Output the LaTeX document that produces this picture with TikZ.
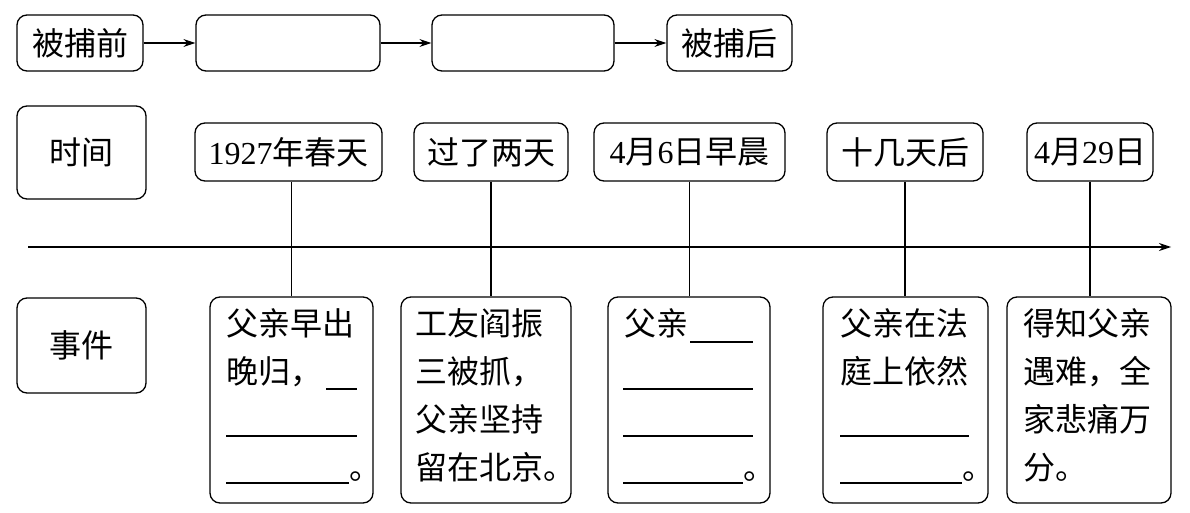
\documentclass[tikz,border=0pt]{standalone}
\usepackage{fontspec}
\setmainfont{Liberation Serif}
\newfontfamily\cjk{Noto Sans CJK SC}
\usetikzlibrary{arrows.meta}
\begin{document}
\begin{tikzpicture}[x=1pt,y=-1pt,line width=1.3pt,
  box/.style={draw,rounded corners=10pt,inner sep=0pt,font=\fontsize{32}{38}\selectfont},
  lbl/.style={anchor=base west,inner sep=0pt,font=\fontsize{32}{38}\selectfont\cjk},
  arr/.style={-{Stealth[length=12pt,width=8pt]}},
  blank/.style={line width=1.2pt}]
\useasboundingbox (0,0) rectangle (1190,513);
% top row
\node[box,minimum width=126pt,minimum height=56pt] (b1) at (80,43) {\cjk 被捕前};
\node[box,minimum width=184pt,minimum height=56pt] (b2) at (288,43) {};
\node[box,minimum width=182pt,minimum height=56pt] (b3) at (523,43) {};
\node[box,minimum width=125pt,minimum height=56pt] (b4) at (729.5,43) {\cjk 被捕后};
\draw[arr] (b1) -- (b2);
\draw[arr] (b2) -- (b3);
\draw[arr] (b3) -- (b4);
% row labels
\node[box,minimum width=129pt,minimum height=93pt] (lt) at (81.5,152.5) {\cjk 时间};
\node[box,minimum width=129pt,minimum height=95pt] (le) at (81.5,345.5) {\cjk 事件};
% time boxes
\node[box,minimum width=187pt,minimum height=58pt] (t1) at (288.5,152) {1927{\cjk 年春天}};
\node[box,minimum width=154pt,minimum height=58pt] (t2) at (491,152) {\cjk 过了两天};
\node[box,minimum width=191pt,minimum height=58pt] (t3) at (689.5,152) {4{\cjk 月}6{\cjk 日早晨}};
\node[box,minimum width=156pt,minimum height=58pt] (t4) at (905,152) {\cjk 十几天后};
\node[box,minimum width=126pt,minimum height=58pt] (t5) at (1090,152) {4{\cjk 月}29{\cjk 日}};
% timeline
\coordinate (tl0) at (28,247);
\coordinate (tl1) at (1171,247);
\draw[arr] (tl0) -- (tl1);
% event boxes
\node[box,minimum width=163pt,minimum height=206pt] (e1) at (291.5,400) {};
\node[box,minimum width=170pt,minimum height=206pt] (e2) at (486,400) {};
\node[box,minimum width=162pt,minimum height=206pt] (e3) at (689,400) {};
\node[box,minimum width=165pt,minimum height=206pt] (e4) at (905.5,400) {};
\node[box,minimum width=164pt,minimum height=206pt] (e5) at (1089,400) {};
% connectors
\draw (e1.north) -- (e1.north |- t1.south);
\draw (t2.south) -- (t2.south |- e2.north);
\draw (t3.south) -- (t3.south |- e3.north);
\draw (t4.south) -- (t4.south |- e4.north);
\draw (t5.south) -- (t5.south |- e5.north);
% event 1
\node[lbl] (e1a) at (226,335) {父亲早出};
\node[lbl] (e1b) at (226,383) {晚归，};
\draw[blank] (326,389) -- (357,389);
\draw[blank] (226,436) -- (357,436);
\draw[blank] (226,483) -- (349,483);
\node[lbl] (e1c) at (349,479) {。};
% event 2
\node[lbl] (e2a) at (415,335) {工友阎振};
\node[lbl] (e2b) at (415,383) {三被抓，};
\node[lbl] (e2c) at (415,431) {父亲坚持};
\node[lbl] (e2d) at (415,479) {留在北京。};
% event 3
\node[lbl] (e3a) at (624,335) {父亲};
\draw[blank] (690,342) -- (753,342);
\draw[blank] (623,389) -- (753,389);
\draw[blank] (623,436) -- (753,436);
\draw[blank] (623,483) -- (743,483);
\node[lbl] (e3b) at (743,479) {。};
% event 4
\node[lbl] (e4a) at (840,335) {父亲在法};
\node[lbl] (e4b) at (840,383) {庭上依然};
\draw[blank] (840,436) -- (969,436);
\draw[blank] (840,483) -- (962,483);
\node[lbl] (e4c) at (962,479) {。};
% event 5
\node[lbl] (e5a) at (1023,335) {得知父亲};
\node[lbl] (e5b) at (1023,383) {遇难，全};
\node[lbl] (e5c) at (1023,431) {家悲痛万};
\node[lbl] (e5d) at (1023,479) {分。};
\end{tikzpicture}
\end{document}
